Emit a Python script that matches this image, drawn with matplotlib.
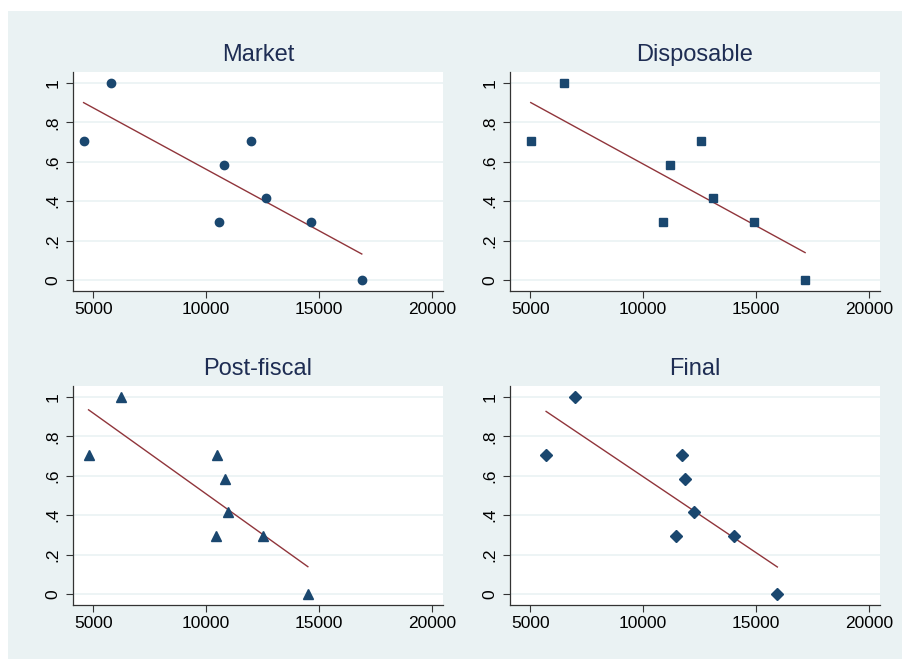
import numpy as np
import matplotlib.pyplot as plt
from matplotlib.patches import Rectangle

plt.rcParams['font.family'] = ['Liberation Sans', 'DejaVu Sans']

# shared y values (rank share)
rank = [0.708, 1.0, 0.292, 0.583, 0.708, 0.417, 0.292, 0.0]

market_x = [4570, 5800, 10590, 10810, 11990, 12640, 14660, 16900]
market_y = rank

disp_x = [5020, 6510, 10870, 11190, 12560, 13090, 14920, 17180]
disp_y = rank

post_x = [4790, 6210, 10490, 10855, 10960, 10440, 12535, 14510]
post_y = [0.708, 1.0, 0.708, 0.583, 0.417, 0.292, 0.292, 0.0]

final_x = [5700, 6970, 11720, 11840, 12260, 11470, 14010, 15950]
final_y = [0.708, 1.0, 0.708, 0.583, 0.417, 0.292, 0.292, 0.0]

titles = ['Market', 'Disposable', 'Post-fiscal', 'Final']
xticks = [5000, 10000, 15000, 20000]
yticks = [0, 0.2, 0.4, 0.6, 0.8, 1]
ytick_labels = ['0', '.2', '.4', '.6', '.8', '1']

BG = '#eaf2f3'
NAVY = '#1a476f'
MAROON = '#90353b'
TITLE_COL = '#1e2d53'

W, H = 903, 659
fig = plt.figure(figsize=(W / 100, H / 100), dpi=100, facecolor='white')
fig.patches.append(Rectangle((8 / W, 0), 1 - 8 / W, 1 - 11 / H,
                             transform=fig.transFigure, facecolor=BG,
                             edgecolor='none', zorder=-10))

panels = [
    (market_x, market_y, 'o', 6.0, 73, 72),
    (disp_x, disp_y, 's', 6.0, 510, 72),
    (post_x, post_y, '^', 7.0, 73, 386),
    (final_x, final_y, 'D', 6.0, 510, 386),
]

for (xs, ys, mk, ms, left, top), title in zip(panels, titles):
    ax = fig.add_axes([left / W, 1 - (top + 219) / H, 370 / W, 219 / H])
    ax.set_facecolor('white')
    xs = np.array(xs, dtype=float)
    ys = np.array(ys, dtype=float)

    ax.plot(xs, ys, linestyle='none', marker=mk, markersize=ms,
            color=NAVY, markeredgecolor=NAVY, zorder=3)
    slope, intercept = np.polyfit(xs, ys, 1)
    xl = np.array([xs.min(), xs.max()])
    ax.plot(xl, intercept + slope * xl, color=MAROON, lw=1.0, zorder=2)

    ax.set_xlim(4100, 20500)
    ax.set_ylim(-0.056, 1.056)
    ax.set_xticks(xticks)
    ax.set_xticklabels([str(t) for t in xticks])
    ax.set_yticks(yticks)
    ax.set_yticklabels(ytick_labels, rotation=90, va='center')
    ax.grid(axis='y', color=BG, lw=1.2)
    ax.set_axisbelow(True)

    for s in ['top', 'right']:
        ax.spines[s].set_visible(False)
    for s in ['left', 'bottom']:
        ax.spines[s].set_color('#333333')
        ax.spines[s].set_linewidth(0.9)
    ax.tick_params(axis='both', length=5, width=0.8, color='#333333',
                   labelsize=12.5, labelcolor='black')
    ax.tick_params(axis='y', pad=4)
    ax.tick_params(axis='x', pad=3)

    ax.set_title(title, fontsize=17, color=TITLE_COL, pad=8)

plt.savefig('out.png', dpi=100, facecolor='white')
